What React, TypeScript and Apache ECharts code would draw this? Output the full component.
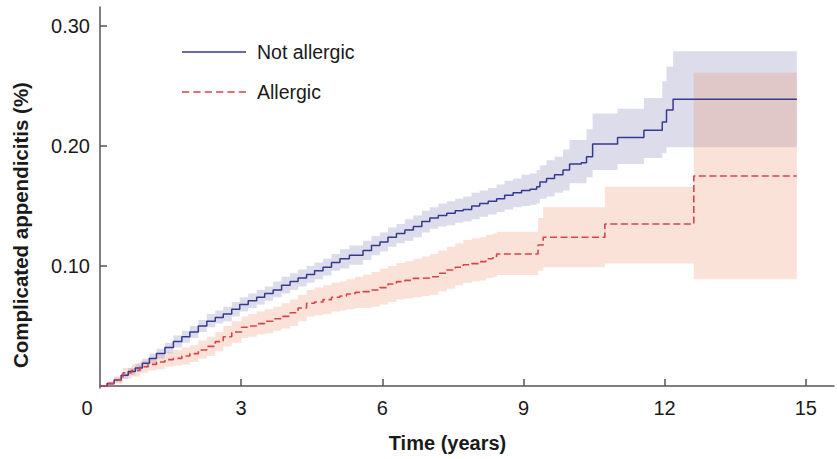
import React, { useEffect, useRef } from "react";
import * as echarts from "echarts";

// ---- Data ----
const xTickLabels = [0, 3, 6, 9, 12, 15];
const yTickLabels = [0.1, 0.2, 0.3];

const notAllergicTime = [
  0.0, 0.15, 0.3, 0.45, 0.6, 0.75, 0.9, 1.05, 1.2, 1.38, 1.56, 1.74, 1.91, 2.09, 2.27, 2.45, 2.62, 2.8, 2.97,
  3.15, 3.33, 3.5, 3.68, 3.86, 4.04, 4.21, 4.39, 4.56, 4.74, 4.92, 5.1, 5.3, 5.59, 5.77, 5.95, 6.12, 6.3, 6.48,
  6.66, 6.84, 7.01, 7.19, 7.37, 7.55, 7.72, 7.9, 8.07, 8.25, 8.43, 8.6, 8.78, 8.96, 9.14, 9.28, 9.35, 9.49, 9.66,
  9.84, 9.98, 10.23, 10.34, 10.47, 11.0, 11.56, 11.95, 12.04, 12.18, 14.81,
];
const notAllergicRisk = [
  0.0, 0.002, 0.005, 0.009, 0.012, 0.015, 0.019, 0.023, 0.027, 0.032, 0.037, 0.041, 0.045, 0.05, 0.054, 0.057,
  0.06, 0.064, 0.068, 0.071, 0.074, 0.077, 0.08, 0.084, 0.087, 0.09, 0.093, 0.096, 0.099, 0.103, 0.106, 0.109,
  0.113, 0.117, 0.12, 0.124, 0.127, 0.13, 0.133, 0.137, 0.14, 0.142, 0.144, 0.146, 0.147, 0.15, 0.152, 0.154,
  0.156, 0.159, 0.161, 0.163, 0.164, 0.166, 0.17, 0.173, 0.176, 0.18, 0.185, 0.186, 0.191, 0.2017, 0.207, 0.213,
  0.22, 0.23, 0.239, 0.239,
];
const notAllergicLower = [
  0.0, 0.001, 0.003, 0.006, 0.009, 0.012, 0.015, 0.019, 0.023, 0.027, 0.032, 0.036, 0.04, 0.045, 0.049, 0.052,
  0.054, 0.058, 0.062, 0.065, 0.068, 0.071, 0.074, 0.077, 0.08, 0.083, 0.086, 0.089, 0.092, 0.096, 0.098, 0.101,
  0.105, 0.109, 0.112, 0.116, 0.119, 0.121, 0.124, 0.128, 0.131, 0.133, 0.134, 0.136, 0.137, 0.139, 0.141, 0.143,
  0.145, 0.147, 0.149, 0.15, 0.151, 0.152, 0.156, 0.158, 0.161, 0.163, 0.169, 0.169, 0.174, 0.18, 0.185, 0.19,
  0.194, 0.199, 0.199, 0.199,
];
const notAllergicUpper = [
  0.0, 0.003, 0.007, 0.011, 0.015, 0.019, 0.023, 0.027, 0.031, 0.036, 0.042, 0.046, 0.05, 0.055, 0.06, 0.063,
  0.066, 0.07, 0.074, 0.077, 0.08, 0.083, 0.087, 0.091, 0.094, 0.097, 0.1, 0.103, 0.106, 0.11, 0.114, 0.117,
  0.121, 0.125, 0.128, 0.132, 0.135, 0.139, 0.142, 0.146, 0.149, 0.152, 0.154, 0.156, 0.158, 0.161, 0.163, 0.165,
  0.168, 0.171, 0.173, 0.176, 0.177, 0.18, 0.184, 0.188, 0.191, 0.197, 0.205, 0.205, 0.214, 0.227, 0.231, 0.24,
  0.254, 0.266, 0.279, 0.279,
];

const allergicTime = [
  0.0, 0.15, 0.3, 0.49, 0.67, 0.85, 1.02, 1.2, 1.38, 1.56, 1.74, 1.91, 2.09, 2.27, 2.45, 2.62, 2.8, 3.01, 3.15,
  3.33, 3.5, 3.68, 3.86, 4.04, 4.21, 4.39, 4.56, 4.74, 4.92, 5.1, 5.24, 5.42, 5.59, 5.77, 5.95, 6.12, 6.3, 6.48,
  6.66, 6.84, 7.01, 7.19, 7.37, 7.55, 7.72, 7.9, 8.07, 8.2, 8.35, 8.43, 9.31, 9.42, 10.73, 12.62, 14.81,
];
const allergicRisk = [
  0.0, 0.002, 0.005, 0.011, 0.013, 0.016, 0.018, 0.02, 0.022, 0.023, 0.025, 0.027, 0.03, 0.033, 0.037, 0.041,
  0.045, 0.049, 0.05, 0.052, 0.054, 0.056, 0.058, 0.061, 0.065, 0.069, 0.07, 0.072, 0.074, 0.075, 0.0767, 0.078,
  0.0786, 0.08, 0.082, 0.085, 0.087, 0.088, 0.0897, 0.09, 0.091, 0.094, 0.0967, 0.099, 0.101, 0.102, 0.1036,
  0.106, 0.108, 0.11, 0.1175, 0.124, 0.135, 0.175, 0.175,
];
const allergicLower = [
  0.0, 0.0, 0.002, 0.006, 0.008, 0.011, 0.013, 0.014, 0.016, 0.017, 0.018, 0.02, 0.023, 0.025, 0.029, 0.033,
  0.036, 0.04, 0.041, 0.043, 0.044, 0.046, 0.048, 0.05, 0.054, 0.058, 0.059, 0.06, 0.062, 0.063, 0.064, 0.065,
  0.065, 0.066, 0.068, 0.07, 0.072, 0.073, 0.074, 0.075, 0.076, 0.079, 0.081, 0.084, 0.086, 0.087, 0.088, 0.09,
  0.091, 0.0925, 0.096, 0.099, 0.102, 0.089, 0.089,
];
const allergicUpper = [
  0.0, 0.004, 0.008, 0.015, 0.018, 0.021, 0.024, 0.026, 0.028, 0.03, 0.032, 0.034, 0.038, 0.041, 0.045, 0.05,
  0.054, 0.058, 0.06, 0.062, 0.064, 0.066, 0.069, 0.072, 0.076, 0.08, 0.082, 0.084, 0.086, 0.087, 0.089, 0.091,
  0.093, 0.095, 0.098, 0.1, 0.1025, 0.104, 0.106, 0.108, 0.11, 0.113, 0.116, 0.119, 0.1217, 0.123, 0.124, 0.126,
  0.127, 0.1286, 0.14, 0.149, 0.166, 0.261, 0.261,
];

const FONT = '"Liberation Sans", Arial, Helvetica, sans-serif';
const BLUE = "#343a8e";
const RED = "#d8434b";
const AXIS = "#555555";
const TEXT = "#1a1a1a";

const SOLID_ICON = "path://M0 0H64V2H0Z";
const DASH_ICON =
  "path://M0 0H7V2H0Z M11 0H18V2H11Z M22 0H29V2H22Z M33 0H40V2H33Z M44 0H51V2H44Z M55 0H62V2H55Z";

const pairs = (t: number[], v: number[]) => t.map((x, i) => [x, v[i]]);

// Step-shaped confidence band drawn as one polygon through the axis scales.
const bandSeries = (name: string, t: number[], lo: number[], hi: number[], color: string) => ({
  name,
  type: "custom",
  silent: true,
  z: 1,
  data: t.map((x, i) => [x, lo[i], hi[i]]),
  encode: { x: 0, y: [1, 2] },
  renderItem: (params: any, api: any) => {
    if (params.dataIndex !== 0) return null;
    const n = t.length;
    const pts: number[][] = [];
    for (let i = 0; i < n - 1; i++) {
      pts.push(api.coord([t[i], hi[i]]));
      pts.push(api.coord([t[i + 1], hi[i]]));
    }
    pts.push(api.coord([t[n - 1], hi[n - 1]]));
    pts.push(api.coord([t[n - 1], lo[n - 1]]));
    for (let i = n - 2; i >= 0; i--) {
      pts.push(api.coord([t[i + 1], lo[i]]));
      pts.push(api.coord([t[i], lo[i]]));
    }
    return {
      type: "polygon",
      shape: { points: pts },
      style: { fill: color, stroke: "none" },
    };
  },
});

export default function App() {
  const ref = useRef<HTMLDivElement>(null);
  useEffect(() => {
    if (!ref.current) return;
    const chart = echarts.init(ref.current, null, { renderer: "svg" });
    chart.setOption({
      animation: false,
      backgroundColor: "#ffffff",
      textStyle: { fontFamily: FONT },
      grid: { left: 100, right: 3, top: 7, bottom: 71 },
      legend: {
        data: [
          { name: "Not allergic", icon: SOLID_ICON },
          { name: "Allergic", icon: DASH_ICON },
        ],
        orient: "vertical",
        left: 177,
        top: 37,
        itemWidth: 64,
        itemHeight: 1.6,
        symbolKeepAspect: false,
        itemGap: 20,
        textStyle: { fontSize: 19.5, color: TEXT, fontFamily: FONT, padding: [0, 0, 0, 6] },
        selectedMode: false,
      },
      xAxis: {
        type: "value",
        min: 0,
        max: 15.6,
        name: "Time (years)",
        nameLocation: "middle",
        nameGap: 45,
        nameTextStyle: {
          fontSize: 20,
          fontWeight: "bold",
          color: TEXT,
          fontFamily: FONT,
          padding: [0, 39, 0, 0],
        },
        axisLine: { show: true, lineStyle: { color: AXIS, width: 1.5 } },
        axisTick: {
          show: true,
          inside: true,
          length: 7,
          customValues: xTickLabels.filter((v) => v > 0),
          lineStyle: { color: AXIS, width: 1.5 },
        },
        axisLabel: {
          customValues: xTickLabels,
          fontSize: 20,
          color: TEXT,
          fontFamily: FONT,
          margin: 10,
          formatter: (v: number) => (v === 0 ? "{o|0}" : String(v)),
          rich: { o: { fontSize: 20, color: TEXT, fontFamily: FONT, padding: [0, 26, 0, 0] } },
        },
        splitLine: { show: false },
      },
      yAxis: {
        type: "value",
        min: -0.00167,
        max: 0.3158,
        name: "Complicated appendicitis (%)",
        nameLocation: "middle",
        nameRotate: 90,
        nameGap: 69,
        nameTextStyle: {
          fontSize: 20.5,
          fontWeight: "bold",
          color: TEXT,
          fontFamily: FONT,
          padding: [0, 55, 0, 0],
        },
        axisLine: { show: true, lineStyle: { color: AXIS, width: 1.5 } },
        axisTick: {
          show: true,
          inside: true,
          length: 7,
          customValues: yTickLabels,
          lineStyle: { color: AXIS, width: 1.5 },
        },
        axisLabel: {
          customValues: yTickLabels,
          fontSize: 20,
          color: TEXT,
          fontFamily: FONT,
          margin: 10,
          formatter: (v: number) => v.toFixed(2),
        },
        splitLine: { show: false },
      },
      series: [
        bandSeries("Not allergic CI", notAllergicTime, notAllergicLower, notAllergicUpper, "rgba(70,70,150,0.19)"),
        bandSeries("Allergic CI", allergicTime, allergicLower, allergicUpper, "rgba(235,140,100,0.25)"),
        {
          name: "Not allergic",
          type: "line",
          step: "end",
          data: pairs(notAllergicTime, notAllergicRisk),
          symbol: "none",
          lineStyle: { color: BLUE, width: 1.5 },
          itemStyle: { color: BLUE },
          z: 3,
        },
        {
          name: "Allergic",
          type: "line",
          step: "end",
          data: pairs(allergicTime, allergicRisk),
          symbol: "none",
          lineStyle: { color: RED, width: 1.6, type: [7, 3.5] },
          itemStyle: { color: RED },
          z: 3,
        },
      ],
    });
    return () => chart.dispose();
  }, []);
  return <div ref={ref} style={{ position: "fixed", left: 0, top: 0, width: 837, height: 459 }} />;
}
